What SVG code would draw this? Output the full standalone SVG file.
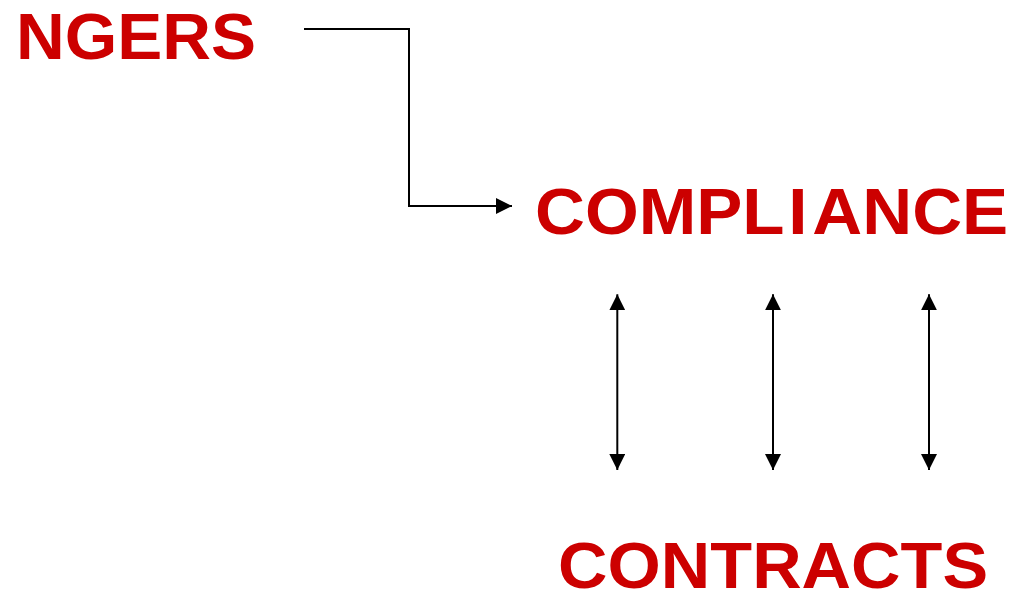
<svg xmlns="http://www.w3.org/2000/svg" width="1015" height="593" viewBox="0 0 1015 593">
<style>
.t{font-family:"Liberation Sans",Arial,sans-serif;font-weight:bold;font-size:64px;fill:#CC0000}
.c{fill:none;stroke:#000;stroke-width:2}
</style>
<defs>
<marker id="ah" markerUnits="userSpaceOnUse" markerWidth="16" markerHeight="16" viewBox="0 0 16 16" refX="16" refY="8" orient="auto-start-reverse">
<path d="M0,0 L16,8 L0,16 Z" fill="#000"/>
</marker>
</defs>
<rect width="1015" height="593" fill="#fff"/>
<g id="ngers"><text class="t" transform="translate(16,58.7) scale(1.055,1)" x="0" y="0" textLength="227.5" lengthAdjust="spacing">NGERS</text></g>
<g id="compliance"><text class="t" transform="translate(535,234.3) scale(1.08,1)" x="0" y="0">COMPL<tspan dx="3.5">I</tspan><tspan dx="4.5">ANCE</tspan></text></g>
<g id="contracts"><text class="t" transform="translate(558,588) scale(1.07,1)" x="0" y="0" textLength="402" lengthAdjust="spacing">CONTRACTS</text></g>
<g id="connectors">
<path class="c" d="M304,29 H409 V206 H512" marker-end="url(#ah)"/>
<path class="c" d="M617.3,294.3 V470" marker-start="url(#ah)" marker-end="url(#ah)"/>
<path class="c" d="M773,294.3 V470" marker-start="url(#ah)" marker-end="url(#ah)"/>
<path class="c" d="M929,294.3 V470" marker-start="url(#ah)" marker-end="url(#ah)"/>
</g>
</svg>
